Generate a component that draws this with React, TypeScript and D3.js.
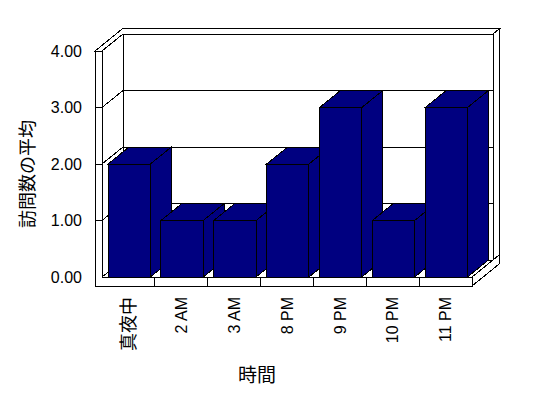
import React from "react";
import * as d3 from "d3";

const categories: string[] = ["真夜中", "2 AM", "3 AM", "8 PM", "9 PM", "10 PM", "11 PM"];
const values: number[] = [2, 1, 1, 2, 3, 1, 3];
const yTicks: number[] = [0, 1, 2, 3, 4];
const yTitle = "訪問数の平均";
const xTitle = "時間";

const W = 548;
const H = 398;

export default function App() {
  const x0 = 102;
  const x1 = 472;
  const yBase = 277;
  const yTop = 51;
  const yFloorB = 286;
  const xL = 95;
  const DX = 21;
  const DY = 17;
  const T = 1.3;

  const y = d3.scaleLinear().domain([0, 4]).range([yBase, yTop]);
  const x = d3.scaleBand<string>().domain(categories).range([x0, x1]).padding(0);
  const step = x.step();
  const barOff = step * 0.115;
  const bw = step * 0.8;

  const P = (px: number, py: number, z: number): [number, number] => [px + z * DX, py - z * DY];
  const pts = (arr: [number, number][]) => arr.map((p) => p.join(",")).join(" ");

  const latin = "'Liberation Sans', Arial, sans-serif";
  const cjk = "'Noto Sans CJK JP', sans-serif";
  const stroke = { stroke: "#000", strokeWidth: 1, strokeLinejoin: "miter" as const };

  const grid = yTicks.filter((v) => v > 0 && v < 4);

  return (
    <svg
      width={W}
      height={H}
      style={{ position: "absolute", left: 0, top: 0, background: "#fff" }}
      shapeRendering="crispEdges"
    >
      <rect x={0} y={0} width={W} height={H} fill="#fff" />
      {/* back wall inner face */}
      <polygon
        points={pts([P(x0, yBase, 1), P(x1, yBase, 1), P(x1, yTop, 1), P(x0, yTop, 1)])}
        fill="#fff"
        {...stroke}
      />
      {/* left wall inner face */}
      <polygon
        points={pts([P(x0, yBase, 0), P(x0, yTop, 0), P(x0, yTop, 1), P(x0, yBase, 1)])}
        fill="#fff"
        {...stroke}
      />
      {/* top of walls */}
      <polygon
        points={pts([
          P(xL, yTop, 0),
          P(x0, yTop, 0),
          P(x0, yTop, 1),
          P(x1, yTop, 1),
          P(x1, yTop, T),
          P(xL, yTop, T),
        ])}
        fill="#fff"
        {...stroke}
      />
      {/* back wall right face */}
      <polygon
        points={pts([P(x1, yBase, 1), P(x1, yBase, T), P(x1, yTop, T), P(x1, yTop, 1)])}
        fill="#fff"
        {...stroke}
      />
      {/* floor right face */}
      <polygon
        points={pts([P(x1, yBase, 0), P(x1, yFloorB, 0), P(x1, yFloorB, T), P(x1, yBase, T)])}
        fill="#fff"
        {...stroke}
      />
      {/* floor top */}
      <polygon
        points={pts([P(x0, yBase, 0), P(x1, yBase, 0), P(x1, yBase, 1), P(x0, yBase, 1)])}
        fill="#fff"
        {...stroke}
      />
      {/* left wall front + floor front */}
      <polygon
        points={pts([
          [xL, yTop],
          [x0, yTop],
          [x0, yBase],
          [x1, yBase],
          [x1, yFloorB],
          [xL, yFloorB],
        ])}
        fill="#fff"
        {...stroke}
      />
      {/* gridlines */}
      {grid.map((v) => (
        <g key={v}>
          <polyline
            points={pts([P(x0, y(v), 0), P(x0, y(v), 1), P(x1, y(v), 1)])}
            fill="none"
            {...stroke}
          />
          <line x1={xL} x2={x0} y1={y(v)} y2={y(v)} {...stroke} />
        </g>
      ))}
      {/* category ticks on floor front */}
      {categories.slice(1).map((c) => {
        const cx = x(c)!;
        return <line key={c} x1={cx} x2={cx} y1={yBase} y2={yFloorB} {...stroke} />;
      })}
      {/* bars */}
      {categories.map((c, i) => {
        const bx = x(c)! + barOff;
        const vy = y(values[i]);
        return (
          <g key={c} fill="#000080">
            <polygon
              points={pts([P(bx + bw, vy, 0), P(bx + bw, vy, 1), P(bx + bw, yBase, 1), P(bx + bw, yBase, 0)])}
              {...stroke}
            />
            <polygon
              points={pts([P(bx, vy, 0), P(bx + bw, vy, 0), P(bx + bw, vy, 1), P(bx, vy, 1)])}
              {...stroke}
            />
            <rect x={bx} y={vy} width={bw} height={yBase - vy} {...stroke} />
          </g>
        );
      })}
      {/* y tick labels */}
      {yTicks.map((v) => (
        <text
          key={v}
          x={82}
          y={y(v)}
          dy="0.36em"
          textAnchor="end"
          fontFamily={latin}
          fontSize={16}
          fill="#000"
        >
          {d3.format(".2f")(v)}
        </text>
      ))}
      {/* x category labels */}
      {categories.map((c) => {
        const cx = x(c)! + step / 2;
        const isCjk = /[^\x00-\x7F]/.test(c);
        return (
          <text
            key={c}
            transform={`translate(${cx},297) rotate(-90)`}
            dy="0.36em"
            textAnchor="end"
            fontFamily={isCjk ? cjk : latin}
            fontSize={isCjk ? 18 : 16}
            fill="#000"
          >
            {c}
          </text>
        );
      })}
      {/* axis titles */}
      <text
        transform="translate(28,174) rotate(-90)"
        dy="0.36em"
        textAnchor="middle"
        fontFamily={cjk}
        fontSize={18}
        fill="#000"
      >
        {yTitle}
      </text>
      <text x={257} y={375} dy="0.36em" textAnchor="middle" fontFamily={cjk} fontSize={19} fill="#000">
        {xTitle}
      </text>
    </svg>
  );
}
